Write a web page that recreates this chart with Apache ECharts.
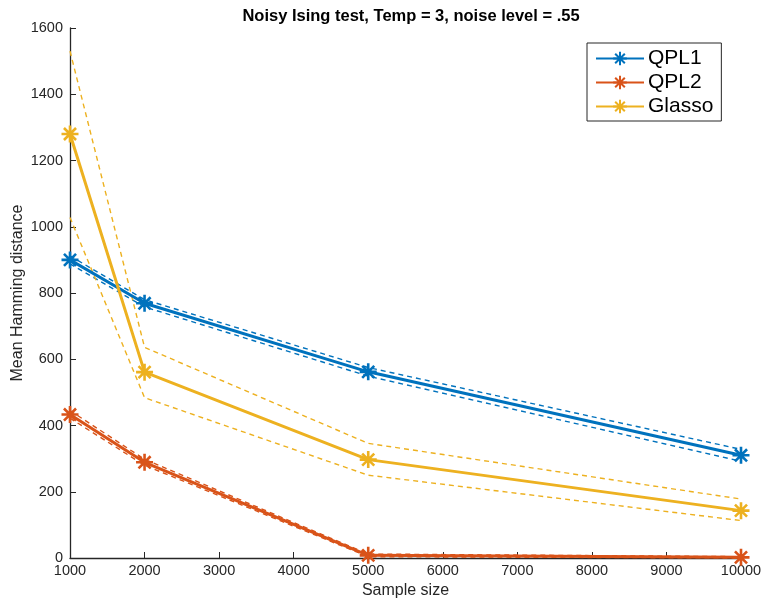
<!DOCTYPE html>
<html>
<head>
<meta charset="utf-8">
<script src="https://cdn.jsdelivr.net/npm/echarts@6/dist/echarts.min.js"></script>
<style>
  html, body { margin: 0; padding: 0; background: #fff; }
  #main { width: 765px; height: 603px; }
</style>
</head>
<body>
<div id="main"></div>
<script>
var sampleSizes = [1000, 2000, 5000, 10000];

var qpl1 = [900, 769, 562, 310];
var qpl1Upper = [912, 780, 575, 328];
var qpl1Lower = [888, 758, 549, 292];

var qpl2 = [433, 289, 8, 2];
var qpl2Upper = [445, 298, 12, 4];
var qpl2Lower = [422, 280, 4, 0];

var glasso = [1280, 561, 297, 143];
var glassoUpper = [1530, 636, 346, 178];
var glassoLower = [1028, 484, 250, 113];

var xTicks = [1000, 2000, 3000, 4000, 5000, 6000, 7000, 8000, 9000, 10000];
var yTicks = [0, 200, 400, 600, 800, 1000, 1200, 1400, 1600];

var BLUE = '#0072BD', RED = '#D95319', YELLOW = '#EDB120';
var AXIS = '#262626';
var FONT = '"Liberation Sans", Arial, sans-serif';
// matlab style '*' marker
var STAR = 'path://M0,-10L0,10M-10,0L10,0M-7.1,-7.1L7.1,7.1M-7.1,7.1L7.1,-7.1';

function pairs(ys) {
  return sampleSizes.map(function (x, i) { return [x, ys[i]]; });
}

function mainLine(name, ys, color) {
  return {
    name: name,
    type: 'line',
    data: pairs(ys),
    symbol: STAR,
    symbolSize: 17,
    showSymbol: true,
    itemStyle: { color: 'none', borderColor: color, borderWidth: 2.6 },
    lineStyle: { color: color, width: 3 },
    z: 3
  };
}

function bandLine(name, ys, color) {
  return {
    name: name,
    type: 'line',
    data: pairs(ys),
    symbol: 'none',
    lineStyle: { color: color, width: 1.4, type: [5, 4] },
    z: 2
  };
}

var chart = echarts.init(document.getElementById('main'));
chart.setOption({
  animation: false,
  title: {
    text: 'Noisy Ising test, Temp = 3, noise level = .55',
    left: 406,
    textAlign: 'center',
    top: 3,
    textStyle: { fontFamily: FONT, fontSize: 16.5, fontWeight: 'bold', color: '#000' }
  },
  grid: { left: 70, right: 24, top: 28, bottom: 45, outerBoundsMode: 'none', containLabel: false },
  legend: {
    data: ['QPL1', 'QPL2', 'Glasso'],
    orient: 'vertical',
    left: 587,
    top: 43,
    padding: [5, 8, 4, 8],
    itemWidth: 48,
    itemHeight: 17,
    itemGap: 3,
    borderColor: '#262626',
    borderWidth: 1,
    textStyle: { fontFamily: FONT, fontSize: 21, color: '#000', padding: [0, 0, 0, -1] }
  },
  xAxis: {
    type: 'value',
    min: 1000,
    max: 10000,
    interval: 1000,
    name: 'Sample size',
    nameLocation: 'middle',
    nameGap: 25,
    nameMoveOverlap: false,
    nameTextStyle: { fontFamily: FONT, fontSize: 16, color: AXIS },
    axisLine: { lineStyle: { color: AXIS, width: 1.3 } },
    axisTick: { inside: true, length: 6, lineStyle: { color: AXIS } },
    axisLabel: {
      fontFamily: FONT, fontSize: 14.5, color: AXIS, margin: 5,
      formatter: function (v) { return String(v); }
    },
    splitLine: { show: false }
  },
  yAxis: {
    type: 'value',
    min: 0,
    max: 1600,
    interval: 200,
    name: 'Mean Hamming distance',
    nameLocation: 'middle',
    nameGap: 44,
    nameMoveOverlap: false,
    nameTextStyle: { fontFamily: FONT, fontSize: 16, color: AXIS },
    axisLine: { show: true, lineStyle: { color: AXIS, width: 1.3 } },
    axisTick: { show: true, inside: true, length: 6, lineStyle: { color: AXIS } },
    axisLabel: {
      fontFamily: FONT, fontSize: 14.5, color: AXIS, margin: 7,
      formatter: function (v) { return String(v); }
    },
    splitLine: { show: false }
  },
  series: [
    bandLine('QPL1 upper', qpl1Upper, BLUE),
    bandLine('QPL1 lower', qpl1Lower, BLUE),
    bandLine('QPL2 upper', qpl2Upper, RED),
    bandLine('QPL2 lower', qpl2Lower, RED),
    bandLine('Glasso upper', glassoUpper, YELLOW),
    bandLine('Glasso lower', glassoLower, YELLOW),
    mainLine('QPL1', qpl1, BLUE),
    mainLine('QPL2', qpl2, RED),
    mainLine('Glasso', glasso, YELLOW)
  ]
});
</script>
</body>
</html>
